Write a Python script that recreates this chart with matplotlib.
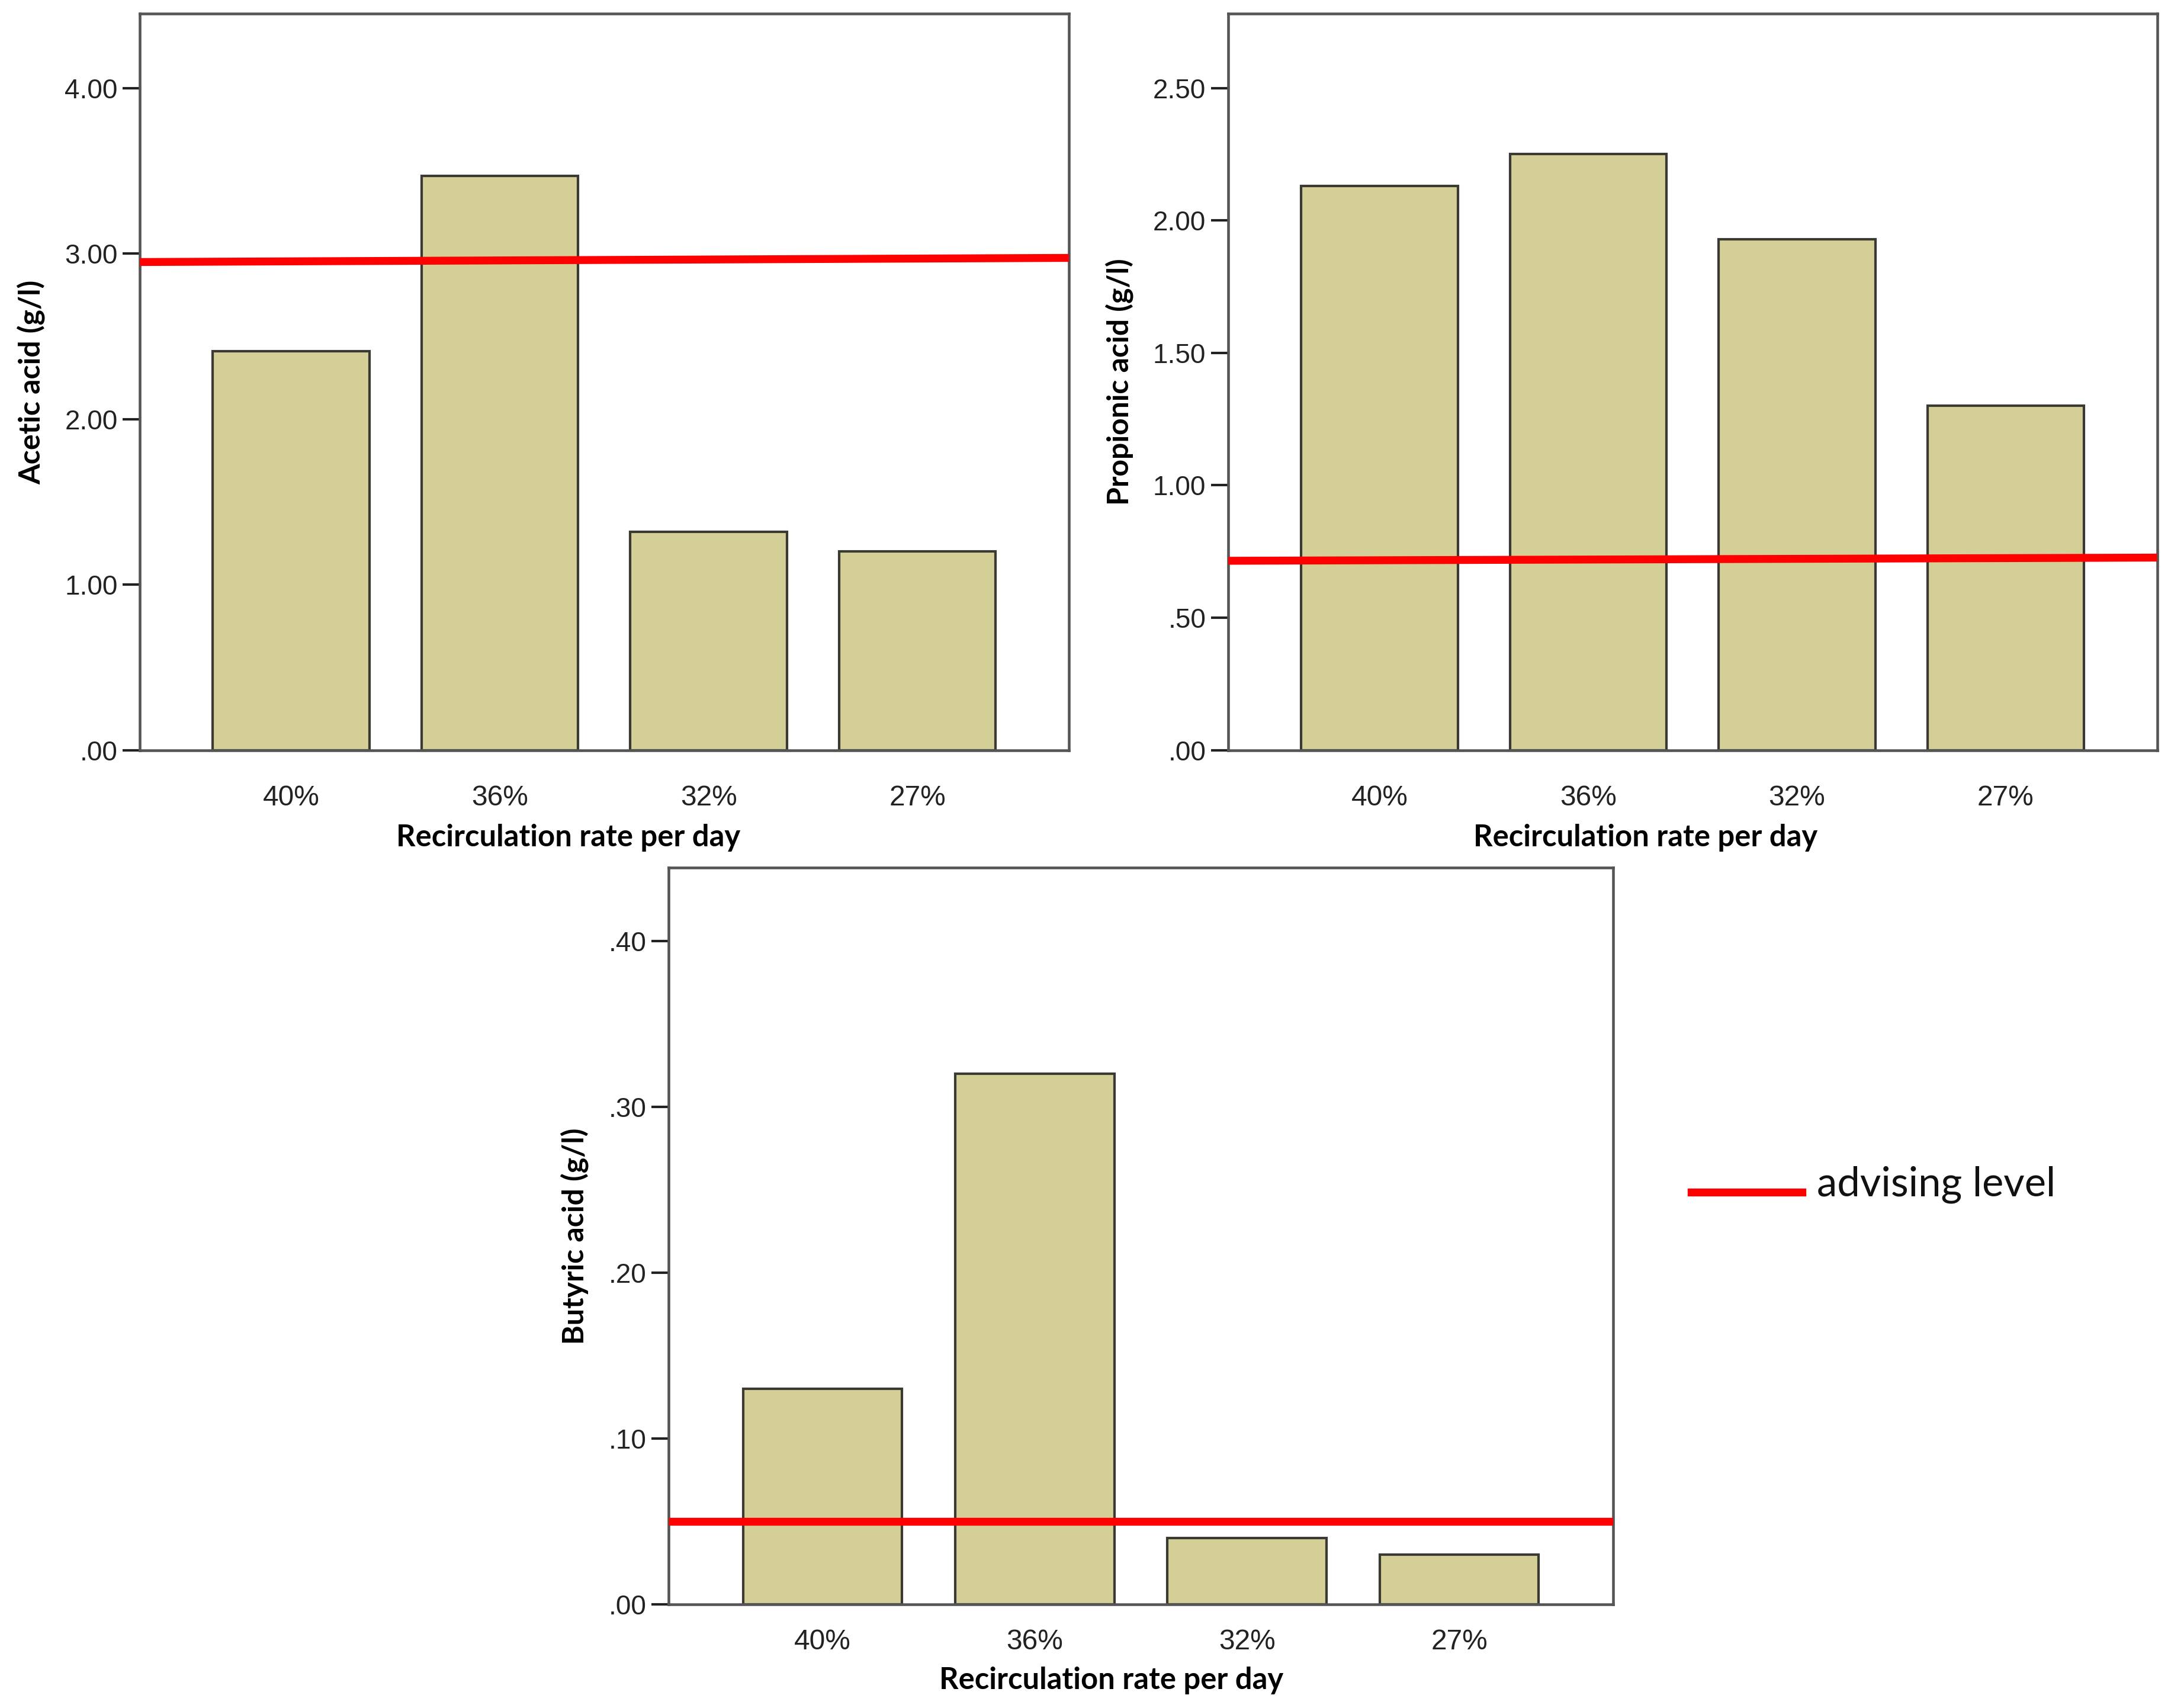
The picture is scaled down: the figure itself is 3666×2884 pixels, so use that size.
import matplotlib
matplotlib.use('Agg')
import matplotlib.pyplot as plt
from matplotlib.lines import Line2D
import numpy as np

# data
rates = ['40%', '36%', '32%', '27%']
acetic = [2.41, 3.47, 1.32, 1.20]
propionic = [2.13, 2.25, 1.93, 1.30]
butyric = [0.13, 0.32, 0.04, 0.03]
# advising level (left end, right end) - drawn slightly tilted in the original
adv_acetic = [2.95, 2.975]
adv_propionic = [0.715, 0.727]
adv_butyric = [0.05, 0.05]

acetic_ticks = [0, 1, 2, 3, 4]
acetic_ticklabels = ['.00', '1.00', '2.00', '3.00', '4.00']
propionic_ticks = [0, 0.5, 1.0, 1.5, 2.0, 2.5]
propionic_ticklabels = ['.00', '.50', '1.00', '1.50', '2.00', '2.50']
butyric_ticks = [0, 0.1, 0.2, 0.3, 0.4]
butyric_ticklabels = ['.00', '.10', '.20', '.30', '.40']

bar_color = '#d4cf96'
edge_color = '#3a3a32'
spine_color = '#555555'
tick_font = 'Liberation Sans'
label_font = 'Lato'

fig = plt.figure(figsize=(3666 / 300, 2884 / 300), dpi=300)

ax1 = fig.add_axes([0.0644, 0.5608, 0.4279, 0.4311])
ax2 = fig.add_axes([0.5657, 0.5608, 0.4279, 0.4311])
ax3 = fig.add_axes([0.3080, 0.0608, 0.4350, 0.4311])


def draw(ax, vals, adv, ymax, ticks, ticklabels, ylabel, xlab_x, xlab_y, xpad):
    x = np.arange(len(rates))
    ax.bar(x, vals, width=0.75, color=bar_color, edgecolor=edge_color,
           linewidth=1.0, zorder=2)
    xl = (-0.725, len(rates) - 1 + 0.725)
    ax.plot(xl, adv, color='#ff0000', linewidth=3.2, zorder=3,
            solid_capstyle='butt')
    ax.set_xlim(*xl)
    ax.set_ylim(0, ymax)
    ax.set_xticks(x)
    ax.set_xticklabels(rates, fontsize=11.5, family=tick_font, color='#222222')
    ax.set_yticks(ticks)
    ax.set_yticklabels(ticklabels, fontsize=11, family=tick_font, color='#222222')
    ax.tick_params(axis='y', direction='out', length=7, width=1.0,
                   color='#222222', pad=2)
    ax.tick_params(axis='x', direction='out', length=0, pad=xpad)
    for s in ax.spines.values():
        s.set_color(spine_color)
        s.set_linewidth(1.1)
    ax.set_xlabel('Recirculation rate per day', fontsize=12.2,
                  fontweight='bold', family=label_font)
    ax.xaxis.set_label_coords(xlab_x, xlab_y)
    ax.set_ylabel(ylabel, fontsize=12, fontweight='bold',
                  family=label_font, labelpad=8)


draw(ax1, acetic, adv_acetic, 4.45, acetic_ticks, acetic_ticklabels,
     'Acetic acid (g/l)', 0.461, -0.100, 14)
draw(ax2, propionic, adv_propionic, 2.78, propionic_ticks,
     propionic_ticklabels, 'Propionic acid (g/l)', 0.449, -0.100, 14)
draw(ax3, butyric, adv_butyric, 0.444, butyric_ticks, butyric_ticklabels,
     'Butyric acid (g/l)', 0.469, -0.085, 10)

# legend drawn by hand, as in the original
fig.add_artist(Line2D([0.779, 0.830], [0.302, 0.302], color='#ff0000',
                      linewidth=3.2, transform=fig.transFigure))
fig.text(0.837, 0.3065, 'advising level', fontsize=16.5, family=label_font,
         va='center', ha='left', color='#111111')

fig.savefig('out.png', dpi=300, facecolor='white')
